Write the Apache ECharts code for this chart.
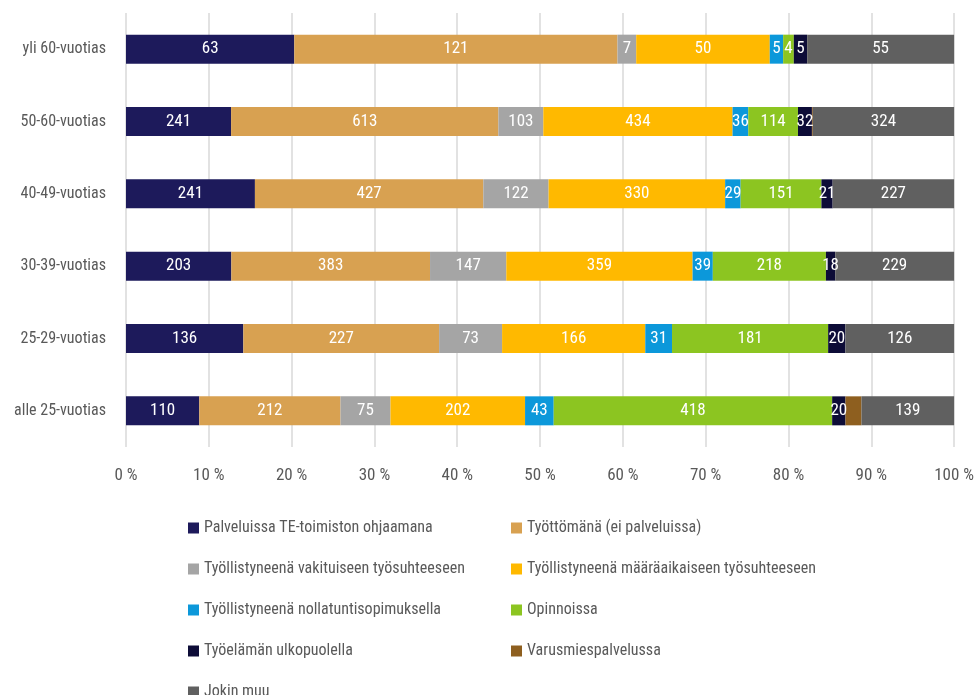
<!DOCTYPE html>
<html>
<head>
<meta charset="utf-8">
<script src="https://cdn.jsdelivr.net/npm/echarts@6/dist/echarts.min.js"></script>
<style>
  html, body { margin: 0; padding: 0; background: #fff; }
  #chart { width: 977px; height: 695px; }
</style>
</head>
<body>
<div id="chart"></div>
<script>
// age groups, bottom to top
const ageGroups = ['alle 25-vuotias', '25-29-vuotias', '30-39-vuotias', '40-49-vuotias', '50-60-vuotias', 'yli 60-vuotias']

const seriesNames = [
  'Palveluissa TE-toimiston ohjaamana',
  'Työttömänä (ei palveluissa)',
  'Työllistyneenä vakituiseen työsuhteeseen',
  'Työllistyneenä määräaikaiseen työsuhteeseen',
  'Työllistyneenä nollatuntisopimuksella',
  'Opinnoissa',
  'Työelämän ulkopuolella',
  'Varusmiespalvelussa',
  'Jokin muu',
]

const palveluissa = [110, 136, 203, 241, 241, 63]
const tyottomana = [212, 227, 383, 427, 613, 121]
const vakituinen = [75, 73, 147, 122, 103, 7]
const maaraaikainen = [202, 166, 359, 330, 434, 50]
const nollatunti = [43, 31, 39, 29, 36, 5]
const opinnoissa = [418, 181, 218, 151, 114, 4]
const ulkopuolella = [20, 20, 18, 21, 32, 5]
const varusmies = [24, 0, 0, 0, 2, 0]
const jokinMuu = [139, 126, 229, 227, 324, 55]

const xTicks = ['0 %', '10 %', '20 %', '30 %', '40 %', '50 %', '60 %', '70 %', '80 %', '90 %', '100 %']

const colors = ['#1d1a5b', '#d8a151', '#a5a5a5', '#ffb900', '#0c98da', '#8cc521', '#0d0c37', '#8e5f1f', '#606060']

const raw = [palveluissa, tyottomana, vakituinen, maaraaikainen, nollatunti, opinnoissa, ulkopuolella, varusmies, jokinMuu]
const totals = ageGroups.map((g, i) => raw.reduce((s, arr) => s + arr[i], 0))

const font = '"Roboto Condensed", "DejaVu Sans Condensed", sans-serif'

const series = raw.map((arr, k) => ({
  name: seriesNames[k],
  type: 'bar',
  stack: 'all',
  barWidth: 29,
  itemStyle: { color: colors[k] },
  label: {
    show: k !== 7,
    position: 'inside',
    color: '#fff',
    fontFamily: font,
    fontSize: 17,
    formatter: (p) => arr[p.dataIndex] > 0 ? String(arr[p.dataIndex]) : '',
  },
  data: arr.map((v, i) => v / totals[i] * 100),
}))

const legendText = { color: '#595959', fontFamily: font, fontSize: 16 }

const chart = echarts.init(document.getElementById('chart'))
chart.setOption({
  animation: false,
  grid: { left: 126, right: 22, top: 13, bottom: 248 },
  xAxis: {
    type: 'value',
    min: 0,
    max: 100,
    interval: 10,
    axisLine: { show: false },
    axisTick: { show: false },
    splitLine: { lineStyle: { color: '#d9d9d9', width: 1.5 } },
    axisLabel: {
      margin: 20,
      color: '#595959',
      fontFamily: font,
      fontSize: 17,
      formatter: (v) => xTicks[Math.round(v / 10)],
    },
  },
  yAxis: {
    type: 'category',
    data: ageGroups,
    axisLine: { show: false },
    axisTick: { show: false },
    axisLabel: { margin: 20, color: '#595959', fontFamily: font, fontSize: 16 },
  },
  legend: [
    {
      orient: 'vertical',
      left: 183,
      top: 515,
      height: 200,
      itemGap: 25,
      itemWidth: 11,
      itemHeight: 11,
      icon: 'rect',
      textStyle: legendText,
      data: [seriesNames[0], seriesNames[2], seriesNames[4], seriesNames[6], seriesNames[8]],
    },
    {
      orient: 'vertical',
      left: 506,
      top: 515,
      height: 200,
      itemGap: 25,
      itemWidth: 11,
      itemHeight: 11,
      icon: 'rect',
      textStyle: legendText,
      data: [seriesNames[1], seriesNames[3], seriesNames[5], seriesNames[7]],
    },
  ],
  series: series,
})
</script>
</body>
</html>
